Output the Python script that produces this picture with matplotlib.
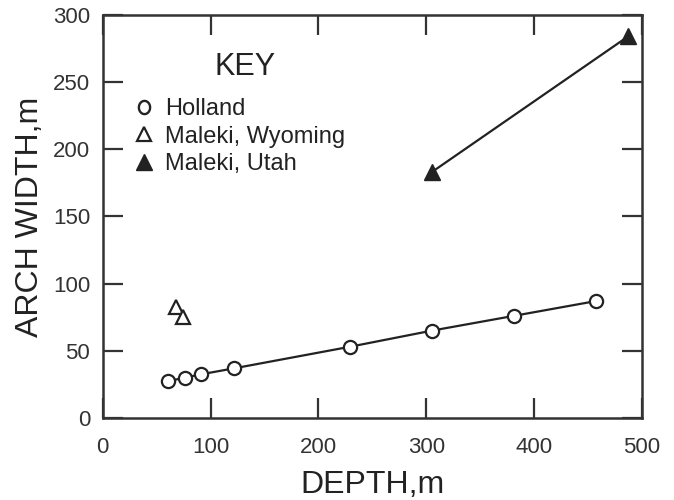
import matplotlib
matplotlib.use("Agg")
import numpy as np
import matplotlib.pyplot as plt
from matplotlib.lines import Line2D
from matplotlib.path import Path

plt.rcParams['font.family'] = ['Liberation Sans', 'DejaVu Sans']

# Holland data (depth m, arch width m)
holland_depth = [61, 76, 91, 122, 229, 305, 381, 457]
holland_width = [27.5, 30, 32.5, 37, 53, 65, 76, 87]

# Maleki, Wyoming
wyoming_depth = [68, 74]
wyoming_width = [83, 75]

# Maleki, Utah
utah_depth = [487, 305]
utah_width = [284, 183]

x_ticks = [0, 100, 200, 300, 400, 500]
y_ticks = [0, 50, 100, 150, 200, 250, 300]

ink = '#222222'
W, H = 674, 500

fig = plt.figure(figsize=(W / 100, H / 100), dpi=100)
ax = fig.add_axes([102.7 / W, 1 - 418 / H, (642 - 102.7) / W, (418 - 15) / H])

ax.plot(holland_depth, holland_width, color=ink, lw=1.6, marker='o', ms=9.5,
        mfc='white', mec=ink, mew=1.6, zorder=3)
ax.plot(wyoming_depth, wyoming_width, ls='none', marker='^', ms=10,
        mfc='white', mec=ink, mew=1.6, zorder=3)
ax.plot(utah_depth, utah_width, color=ink, lw=1.6, marker='^', ms=11,
        mfc=ink, mec=ink, mew=1.0, zorder=3)

ax.set_xlim(0, 500)
ax.set_ylim(0, 300)
ax.set_xticks(x_ticks)
ax.set_yticks(y_ticks)

for s in ax.spines.values():
    s.set_linewidth(1.8)
    s.set_color('#333333')

ax.tick_params(axis='both', direction='in', length=14.5, width=1.6,
               colors='#333333', labelsize=16, top=True, right=True)
ax.tick_params(axis='x', pad=14)
ax.tick_params(axis='y', pad=9)

ax.set_xlabel('DEPTH,m', fontsize=23, color=ink, labelpad=8)
ax.set_ylabel('ARCH WIDTH,m', fontsize=23, color=ink, labelpad=6)

# Key: a slightly upright oval symbol for the open circle entry
t = np.linspace(0, 2 * np.pi, 60)
oval = Path(np.column_stack([0.85 * np.cos(t), np.sin(t)]), closed=True)

fig.text(245 / W, 1 - 67 / H, 'KEY', fontsize=22, color=ink,
         ha='center', va='center')
handles = [
    Line2D([], [], ls='none', marker=oval, ms=9.5, mfc='white', mec=ink, mew=1.7),
    Line2D([], [], ls='none', marker='^', ms=10.5, mfc='white', mec=ink, mew=1.6),
    Line2D([], [], ls='none', marker='^', ms=11, mfc=ink, mec=ink, mew=1.0),
]
labels = ['Holland', 'Maleki, Wyoming', 'Maleki, Utah']
leg = ax.legend(handles, labels, loc='upper left',
                bbox_to_anchor=(135 / W, 1 - 98 / H),
                bbox_transform=fig.transFigure, frameon=False, fontsize=17,
                handlelength=0.8, handletextpad=0.47, labelspacing=0.24,
                borderaxespad=0, borderpad=0)
for txt in leg.get_texts():
    txt.set_color(ink)

fig.savefig('out.png', dpi=100)
